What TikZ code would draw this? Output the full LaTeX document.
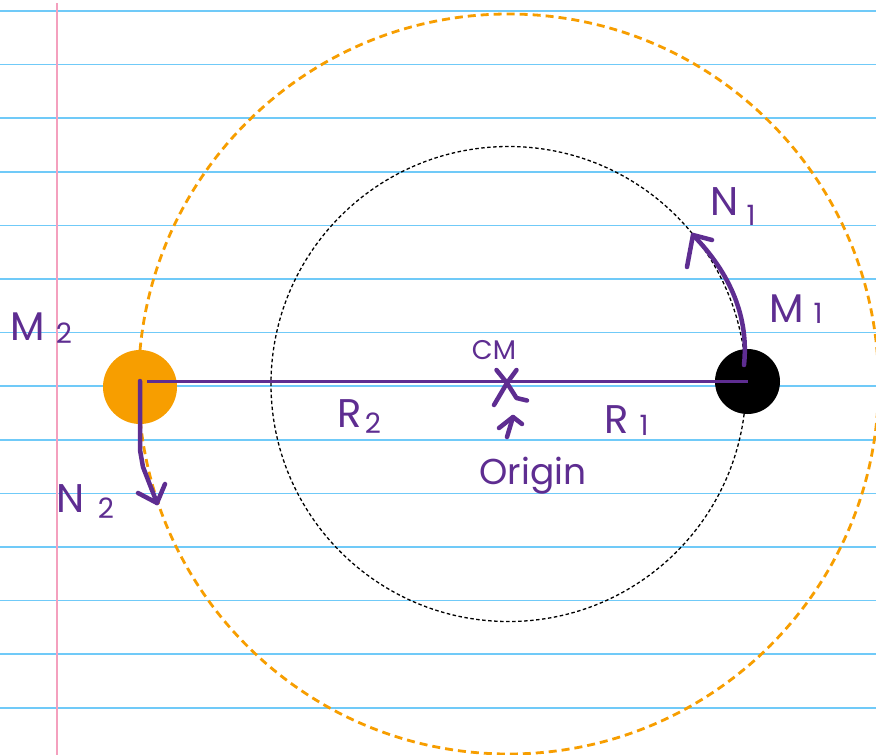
\documentclass[tikz,border=0pt]{standalone}
\usepackage{fontspec}
\setmainfont{Poppins}
\definecolor{purp}{RGB}{94,45,145}
\definecolor{rulecol}{RGB}{112,202,248}
\definecolor{margincol}{RGB}{244,160,190}
\definecolor{orng}{RGB}{247,158,0}
\tikzset{
  ruleline/.style={rulecol, line width=1.6pt},
  marginline/.style={margincol, line width=1.6pt},
  orbittwo/.style={orng, line width=2.8pt, dash pattern=on 8pt off 5pt},
  orbitone/.style={black, line width=1.3pt, dash pattern=on 3.5pt off 2.5pt},
  hand/.style={purp, line width=4.5pt, line cap=round, line join=round},
  bar/.style={purp, line width=3.5pt},
  lbl/.style={purp, inner sep=0pt, anchor=base, font=\fontsize{40}{40}\selectfont},
  sublbl/.style={purp, inner sep=0pt, anchor=base, font=\fontsize{28}{28}\selectfont},
}
\begin{document}
\begin{tikzpicture}[x=1pt,y=-1pt]
\useasboundingbox (0,0) rectangle (876,755);
\clip (0,0) rectangle (876,755);
\fill[white] (0,0) rectangle (876,755);
% ruled paper
\foreach \k in {0,...,13}{
  \draw[ruleline] (0,11+53.6*\k) -- (876,11+53.6*\k);
}
\draw[marginline] (57,3) -- (57,755);
% orbits
\coordinate (cm) at (508.5,384);
\draw[orbittwo] (cm) circle[radius=370];
\draw[orbitone] (cm) circle[radius=237.5];
% masses
\node[circle, fill=orng, inner sep=0pt, minimum size=74pt] (m2) at (140,387) {};
\node[circle, fill=black, inner sep=0pt, minimum size=65pt] (m1) at (747.5,381.5) {};
% separation line
\coordinate (lstart) at ([xshift=7]m2.center);
\draw[bar] (lstart |- m1.center) -- (m1.center);
% CM cross
\draw[hand] ([shift={(-12,-14)}]cm) -- ([shift={(-1.5,-1)}]cm) -- ([shift={(8,14)}]cm) -- ([shift={(18.5,16.5)}]cm);
\draw[hand] ([shift={(8,-14)}]cm) -- ([shift={(-1.5,-1)}]cm) -- ([shift={(-14.5,21)}]cm);
% small arrow to CM
\coordinate (orgtail) at (507,437);
\coordinate (orgtip) at (513,417);
\draw[hand] (orgtail) -- (orgtip);
\draw[hand] ([shift={(-14,11)}]orgtip) -- (orgtip) -- ([shift={(9,7)}]orgtip);
% velocity arrows
\coordinate (n1tip) at (693,235);
\draw[hand] ([shift={(-3.5,-16.5)}]m1.center) .. controls (749,318) and (731,274) .. (n1tip);
\draw[hand] ([shift={(-6,32)}]n1tip) -- (n1tip) -- ([shift={(19,5)}]n1tip);
\coordinate (n2tip) at (157,503);
\draw[hand] ([yshift=6]m2.center) -- (140,450) -- (143,467) -- (n2tip);
\draw[hand] ([shift={(-19,-10)}]n2tip) -- (n2tip) -- ([shift={(8,-19)}]n2tip);
% labels
\node[lbl] (lM2) at (28,340) {M};
\node[sublbl] (sM2) at (64,343) {2};
\node[lbl] (lN2) at (71,512) {N};
\node[sublbl] (sN2) at (106,518) {2};
\node[lbl] (lR2) at (350,427) {R};
\node[sublbl] (sR2) at (373,433) {2};
\node[lbl] (lR1) at (617,433) {R};
\node[sublbl] (sR1) at (644,435) {1};
\node[lbl] (lN1) at (725,215) {N};
\node[sublbl] (sN1) at (751,225) {1};
\node[lbl] (lM1) at (787,322) {M};
\node[sublbl] (sM1) at (818,323) {1};
\node[purp, inner sep=0pt, anchor=base, font=\fontsize{27}{27}\selectfont] (lCM) at (494,359) {CM};
\node[purp, inner sep=0pt, anchor=base, font=\fontsize{36}{36}\selectfont] (lorig) at (533,484) {Origin};
\end{tikzpicture}
\end{document}
